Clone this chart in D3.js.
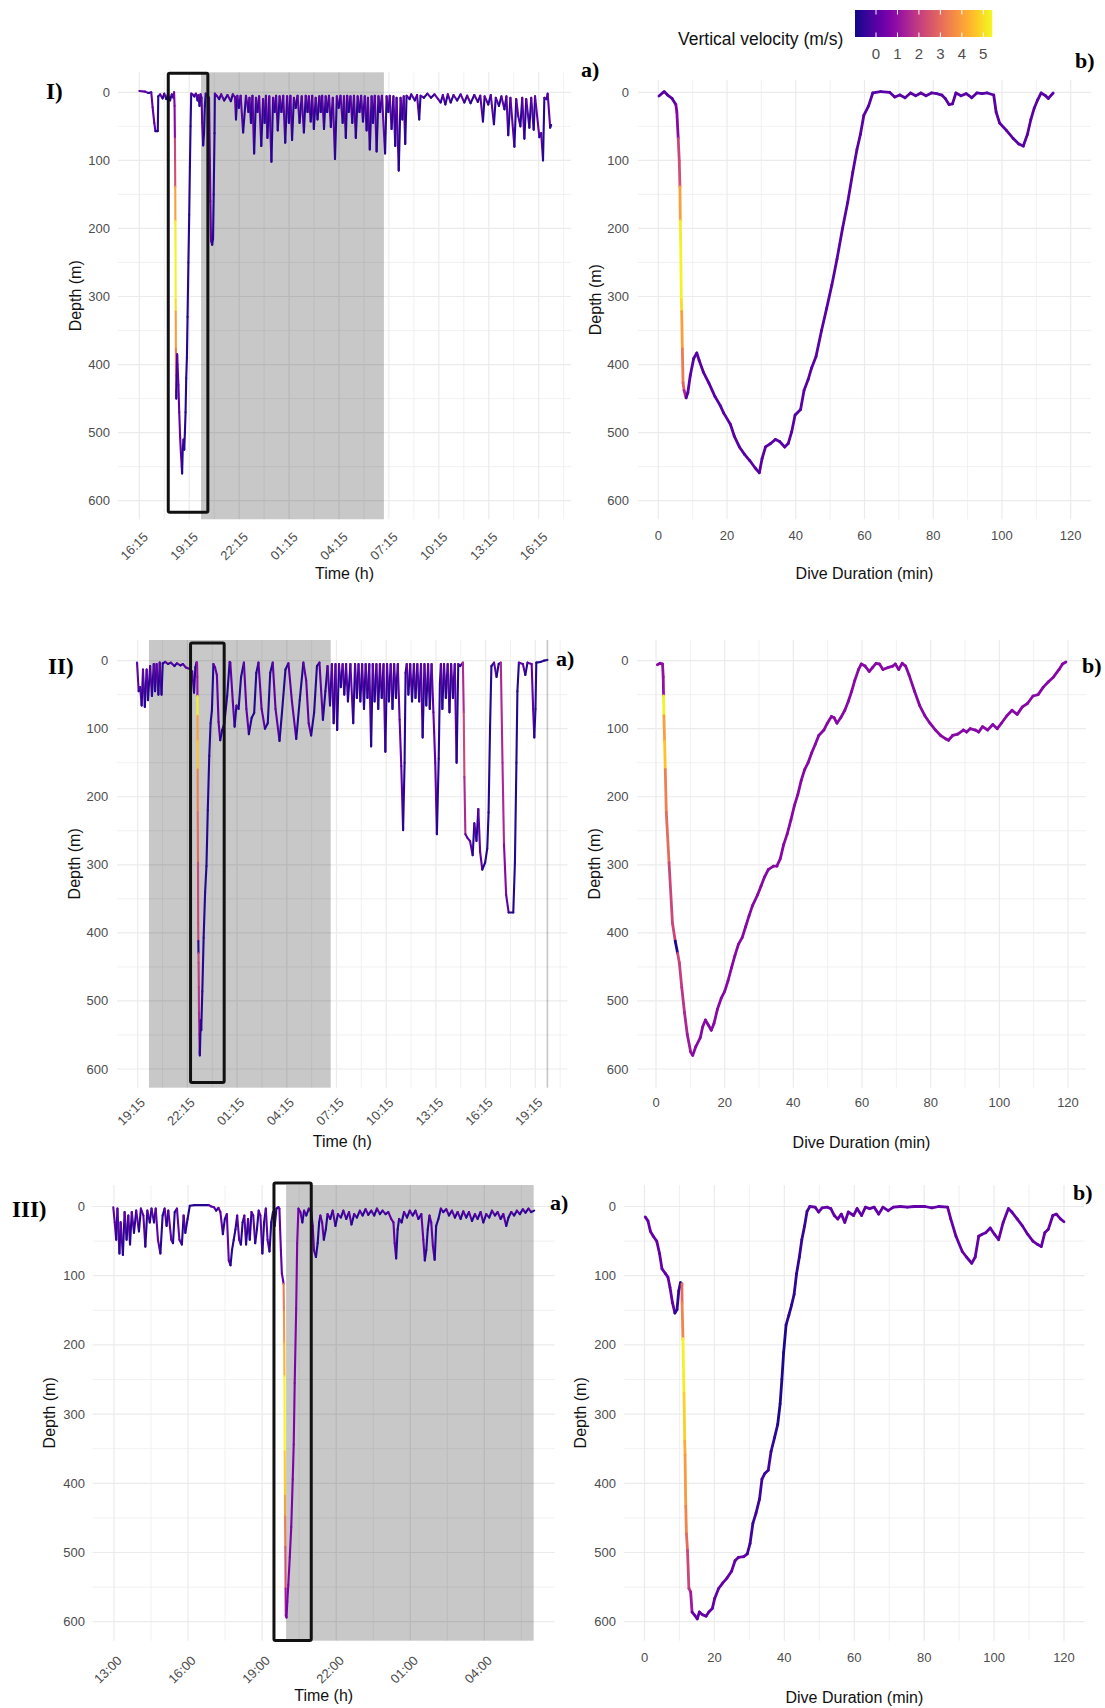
<!DOCTYPE html>
<html lang="en">
  <head>
    <meta charset="UTF-8" />
    <title>Dive profiles</title>
    <script src="https://d3js.org/d3.v7.min.js"></script>
    <style>
      body { margin: 0; background: #fff; }
      svg { display: block; font-family: 'Liberation Sans', Arial, sans-serif; }
    </style>
  </head>
  <body>
    <svg width="1105" height="1708"></svg>
    <script>
      // ---- data ----
      // tracks: [hours since first tick, depth m, optional vertical velocity m/s]
      // profiles: [minutes since dive start, depth m, optional vertical velocity m/s]
      var timeLabelsI = ['16:15', '19:15', '22:15', '01:15', '04:15', '07:15', '10:15', '13:15', '16:15']
      var timeLabelsII = ['19:15', '22:15', '01:15', '04:15', '07:15', '10:15', '13:15', '16:15', '19:15']
      var timeLabelsIII = ['13:00', '16:00', '19:00', '22:00', '01:00', '04:00']
      var depthTicks = [0, 100, 200, 300, 400, 500, 600]
      var durationTicks = [0, 20, 40, 60, 80, 100, 120]
      var velocityTicks = [0, 1, 2, 3, 4, 5]
      var velocityLimits = [-0.98, 5.42]

      var nightI = [[3.71, 14.7]]
      var nightII = [[0.68, 11.65], [24.68, 24.78]]
      var nightIII = [[6.97, 17.0]]
      // highlighted dive: [t start, t end, depth top, depth bottom]
      var boxI = [1.74, 4.12, -28, 617]
      var boxII = [3.19, 5.22, -26, 620]
      var boxIII = [6.48, 7.99, -34, 627]

      var trackI = [
        [0.0, -2], [0.35, -1], [0.55, 1], [0.72, 0], [0.8, 22], [0.9, 45], [0.97, 57], [1.11, 57], [1.14, 6], [1.25, 3],
        [1.4, 9], [1.5, 2], [1.62, 10], [1.72, 3], [1.85, 12], [1.95, 3], [2.05, 8],
        [2.09, 0], [2.12, 20, 0.6], [2.14, 68, 0.8], [2.15, 101, 2.2], [2.16, 139, 2.4], [2.17, 189, 4.0], [2.175, 217, 5.2],
        [2.185, 305, 5.3], [2.19, 322, 5.0], [2.2, 377, 4.0], [2.21, 427, 3.3], [2.215, 438, 2.8], [2.223, 450, 1.0],
        [2.25, 416], [2.273, 385], [2.3, 400], [2.35, 430], [2.4, 470], [2.45, 505], [2.5, 530], [2.55, 550], [2.573, 560],
        [2.61, 525], [2.657, 510], [2.7, 525], [2.74, 500], [2.78, 470], [2.82, 420], [2.86, 390], [2.9, 330], [2.95, 250],
        [3.0, 180], [3.04, 110], [3.08, 50], [3.12, 2],
        [3.2, 3], [3.3, 6], [3.4, 2], [3.5, 12], [3.55, 4], [3.62, 20], [3.68, 3], [3.74, 8], [3.78, 45], [3.84, 78],
        [3.89, 60], [3.94, 20], [3.99, 2], [4.1, 5], [4.19, 8], [4.24, 100], [4.27, 160], [4.31, 218], [4.38, 224],
        [4.43, 215], [4.47, 150], [4.52, 60], [4.54, 2], [4.65, 5], [4.8, 10], [4.92, 3], [5.1, 12], [5.3, 4], [5.5, 13],
        [5.62, 3], [5.75, 7],
        [5.81, 40], [5.89, 5], [5.98, 23], [6.09, 5], [6.24, 59], [6.41, 5], [6.56, 29], [6.62, 8], [6.71, 45], [6.8, 5],
        [6.9, 90], [7.01, 8], [7.1, 29], [7.2, 6], [7.33, 79], [7.44, 10], [7.53, 45], [7.61, 5], [7.7, 67], [7.81, 6],
        [7.94, 102], [8.04, 8], [8.13, 29], [8.22, 5], [8.32, 56], [8.43, 6], [8.54, 29], [8.65, 5], [8.77, 74], [8.88, 6],
        [8.99, 45], [9.08, 5], [9.18, 70], [9.29, 8], [9.4, 23], [9.51, 5], [9.63, 45], [9.76, 6], [9.89, 59], [10.0, 5],
        [10.11, 29], [10.19, 6], [10.3, 43], [10.39, 5], [10.49, 54], [10.6, 8], [10.71, 40], [10.82, 6], [10.9, 29],
        [10.99, 5], [11.1, 54], [11.2, 6], [11.29, 29], [11.4, 5], [11.51, 51], [11.63, 8], [11.76, 98], [11.87, 6],
        [11.98, 23], [12.09, 5], [12.22, 45], [12.3, 6], [12.41, 67], [12.49, 5], [12.58, 29], [12.69, 6], [12.8, 45],
        [12.9, 5], [13.01, 67], [13.12, 6], [13.23, 29], [13.33, 5], [13.44, 43], [13.55, 6], [13.66, 56], [13.74, 8],
        [13.85, 84], [13.96, 6], [14.04, 45], [14.15, 5], [14.26, 87], [14.37, 6], [14.47, 29], [14.58, 5], [14.77, 90],
        [14.86, 6], [14.97, 29], [15.05, 5], [15.16, 54], [15.27, 6], [15.38, 79], [15.46, 8], [15.59, 115], [15.7, 8],
        [15.81, 40], [15.89, 6], [15.98, 76], [16.06, 5],
        [16.24, 10], [16.34, 3], [16.56, 12], [16.69, 4], [16.82, 40], [16.9, 5], [17.1, 8], [17.31, 2], [17.53, 8],
        [17.74, 3], [17.96, 10], [18.11, 15], [18.24, 4], [18.39, 18], [18.54, 3], [18.71, 15], [18.88, 4], [19.1, 12],
        [19.31, 3], [19.53, 15], [19.7, 5], [19.91, 16], [20.13, 4], [20.34, 14], [20.49, 5], [20.65, 43], [20.75, 6],
        [20.97, 18], [21.12, 4], [21.31, 47], [21.42, 8], [21.61, 20], [21.76, 6], [21.94, 25], [22.06, 6], [22.17, 63],
        [22.3, 8], [22.54, 80], [22.65, 10], [22.77, 35], [22.9, 50], [23.01, 8], [23.14, 68], [23.25, 10], [23.44, 52],
        [23.55, 8], [23.7, 55], [23.78, 6], [24.04, 66], [24.15, 60], [24.26, 100], [24.34, 8], [24.47, 10], [24.54, 2],
        [24.69, 52], [24.75, 48]
      ]

      var profileI = [
        [0.2, 5.5], [1.2, 1], [1.7, -1], [2.7, 4], [4.0, 9], [5.1, 18], [5.4, 29, 0.6], [5.8, 68, 0.8], [6.1, 101, 2.2],
        [6.3, 139, 2.4], [6.4, 189, 4.0], [6.5, 217, 5.2], [6.7, 305, 5.3], [6.8, 322, 5.0], [7.0, 377, 4.0],
        [7.2, 427, 3.3], [7.5, 438, 2.8], [8.1, 449, 1.5], [8.6, 441], [9.3, 416], [10.3, 391], [11.2, 383], [11.9, 394],
        [13.1, 411], [14.7, 427], [16.5, 447], [18.0, 460], [19.0, 471], [21.0, 488], [22.1, 505], [23.6, 521],
        [25.1, 532], [26.6, 541], [28.2, 552], [29.4, 559], [30.2, 538], [31.2, 521], [32.7, 516], [34.1, 510],
        [35.3, 513], [36.8, 521], [37.8, 516], [38.8, 499], [39.8, 474], [41.4, 466], [42.4, 438], [43.6, 422],
        [44.6, 405], [45.9, 388], [47.5, 350], [49.0, 317], [50.5, 283], [52.0, 245], [53.6, 200], [55.1, 162],
        [56.6, 117], [57.8, 84], [58.8, 62], [59.8, 34], [61.2, 20], [62.4, 1], [64.7, -1], [67.3, 0], [68.8, 7],
        [70.3, 4], [71.8, 8], [73.4, 1], [74.9, 5], [76.4, 1], [77.9, 5], [79.5, 1], [81.0, 2], [82.5, 4], [83.5, 9],
        [84.6, 18], [85.6, 17], [86.6, 1], [88.1, 5], [89.6, 2], [91.2, 8], [92.7, 1], [94.2, 2], [95.7, 1], [97.6, 4],
        [98.3, 29], [99.3, 45], [101.3, 56], [103.3, 68], [104.9, 76], [106.2, 79], [107.4, 62], [108.4, 40],
        [109.4, 23], [110.4, 11], [111.4, 1], [112.7, 5], [113.5, 9], [114.9, 1]
      ]

      var trackII = [
        [-0.04, 3], [0.06, 45], [0.15, 39], [0.24, 66], [0.32, 13], [0.43, 68], [0.54, 13], [0.62, 58], [0.75, 8],
        [0.86, 52], [0.97, 5], [1.05, 45], [1.14, 5], [1.25, 50], [1.33, 3], [1.44, 50], [1.51, 4],
        [1.66, 2], [1.83, 5], [2.0, 3], [2.22, 8], [2.37, 4], [2.58, 7], [2.73, 5], [2.9, 10], [3.12, 12], [3.29, 16],
        [3.4, 47], [3.48, 10], [3.55, 3], [3.58, 3],
        [3.6, 24, 1.0], [3.605, 52, 1.0], [3.61, 81, 5.3], [3.615, 118, 4.0], [3.62, 160, 4.6], [3.625, 223, 3.4],
        [3.64, 297, 3.0], [3.65, 386, 2.2], [3.66, 412, 2.2], [3.67, 430, -0.6], [3.675, 444, 2.2], [3.69, 480, 2.0],
        [3.7, 517, 1.8], [3.72, 549, 1.5], [3.74, 575, 1.2], [3.75, 580, 0.8],
        [3.807, 528], [3.835, 543], [3.9, 486], [3.98, 407], [4.07, 340], [4.15, 302], [4.23, 220], [4.32, 140],
        [4.4, 92], [4.48, 73], [4.57, 5], [4.67, 10], [4.78, 21], [4.88, 90], [4.98, 117], [5.1, 102], [5.23, 92],
        [5.4, 52], [5.55, 2], [5.59, 3],
        [5.74, 60], [5.85, 97], [5.96, 66], [6.09, 71], [6.24, 24], [6.41, 3], [6.56, 71], [6.71, 108], [6.88, 84],
        [7.03, 77], [7.16, 18], [7.29, 3], [7.48, 71], [7.68, 100], [7.85, 92], [8.0, 18], [8.15, 3], [8.32, 71],
        [8.56, 118], [8.71, 76], [8.92, 13], [9.1, 4], [9.31, 60], [9.57, 115], [9.78, 58], [10.0, 3], [10.17, 29],
        [10.32, 92], [10.47, 110], [10.65, 76], [10.82, 8], [10.97, 3], [11.18, 87], [11.33, 45], [11.46, 8],
        [11.61, 66], [11.72, 5],
        [11.83, 92], [11.94, 5], [12.04, 102], [12.15, 5], [12.26, 39], [12.37, 5], [12.47, 50], [12.58, 5],
        [12.69, 60], [12.84, 5], [13.01, 92], [13.12, 5], [13.23, 55], [13.33, 5], [13.44, 60], [13.55, 5],
        [13.66, 71], [13.76, 5], [13.87, 55], [13.98, 5], [14.09, 126], [14.19, 5], [14.3, 60], [14.41, 5],
        [14.52, 71], [14.62, 5], [14.73, 55], [14.84, 5], [14.95, 134], [15.05, 5], [15.16, 60], [15.27, 5],
        [15.38, 71], [15.48, 5], [15.59, 55], [15.7, 5], [15.81, 87], [15.91, 155], [16.02, 249], [16.11, 150],
        [16.17, 18], [16.24, 5], [16.34, 50], [16.45, 5], [16.56, 60], [16.67, 5], [16.77, 55], [16.88, 5],
        [16.99, 60], [17.1, 5], [17.2, 113], [17.31, 5], [17.42, 66], [17.53, 5], [17.63, 71], [17.74, 5],
        [17.85, 76], [17.96, 150], [18.06, 255], [18.17, 144], [18.24, 34], [18.3, 5], [18.39, 71], [18.49, 5],
        [18.6, 55], [18.71, 5], [18.82, 76], [18.92, 5], [19.03, 55], [19.14, 5], [19.25, 150], [19.35, 5],
        [19.46, 8], [19.63, 3], [19.68, 76, 1.5], [19.72, 171, 2.2], [19.78, 255, 1.5], [19.89, 260], [20.06, 265],
        [20.22, 286], [20.32, 239], [20.45, 265], [20.56, 218], [20.67, 281], [20.8, 307], [20.97, 297],
        [21.1, 276], [21.18, 223], [21.27, 97], [21.35, 8], [21.51, 3], [21.66, 24], [21.79, 5], [21.92, 3],
        [22.02, 150, 1.5], [22.11, 270, 1.5], [22.24, 344, 0.8], [22.39, 370], [22.67, 370], [22.77, 297],
        [22.86, 150], [22.92, 45], [23.01, 3], [23.25, 5], [23.4, 21], [23.53, 3], [23.78, 5], [23.87, 71],
        [23.94, 113], [24.01, 71], [24.06, 3], [24.32, 2], [24.52, 0], [24.73, -1]
      ]

      var profileII = [
        [0.4, 6], [1.2, 4], [1.9, 5], [2.1, 24, 1.0], [2.2, 52, 1.0], [2.3, 81, 5.3], [2.5, 118, 4.0], [2.7, 160, 4.6],
        [3.0, 223, 3.4], [3.8, 297, 3.0], [4.8, 386, 2.2], [5.6, 412, 2.2], [6.3, 430, -0.8], [6.8, 444, 2.2],
        [7.5, 480, 2.0], [8.3, 517, 1.8], [9.1, 549, 1.5], [10.1, 575, 1.2], [10.7, 580, 1.0],
        [11.6, 567], [12.9, 554], [13.6, 538], [14.4, 528], [15.2, 535], [16.1, 543], [16.9, 533], [17.9, 512],
        [19.0, 496], [20.0, 486], [21.0, 470], [22.0, 451], [23.0, 433], [24.0, 417], [25.1, 407], [26.1, 391],
        [27.1, 375], [28.1, 360], [29.6, 344], [30.6, 331], [31.6, 318], [32.7, 307], [34.2, 302], [35.2, 302],
        [36.2, 291], [37.2, 270], [38.2, 255], [39.3, 234], [40.3, 213], [41.3, 197], [42.3, 176], [43.3, 160],
        [44.3, 150], [45.3, 136], [46.4, 123], [47.4, 110], [48.9, 102], [49.9, 92], [51.1, 82], [51.9, 84],
        [52.7, 92], [53.8, 84], [55.0, 73], [56.0, 60], [57.0, 45], [57.9, 29], [59.0, 13], [59.8, 5], [60.9, 8],
        [62.1, 16], [63.1, 10], [64.1, 4], [65.1, 5], [66.1, 13], [67.7, 10], [69.0, 8], [69.7, 5], [70.7, 13],
        [71.7, 4], [72.7, 8], [73.7, 21], [75.3, 45], [76.8, 66], [78.3, 81], [79.8, 92], [81.4, 102], [82.9, 110],
        [84.4, 115], [85.2, 117], [86.4, 110], [87.9, 108], [89.5, 102], [90.5, 105], [91.5, 100], [93.0, 102],
        [94.0, 105], [95.1, 97], [96.6, 102], [98.1, 94], [99.4, 100], [100.6, 92], [102.2, 81], [103.7, 73],
        [105.2, 79], [106.7, 68], [108.2, 63], [109.8, 52], [111.3, 50], [112.8, 39], [114.3, 31], [115.8, 24],
        [117.4, 13], [118.4, 5], [119.4, 2]
      ]

      var trackIII = [
        [-0.03, 1], [0.03, 23], [0.09, 48], [0.14, 3], [0.22, 68], [0.27, 23], [0.36, 70], [0.43, 8], [0.51, 48],
        [0.58, 13], [0.65, 55], [0.72, 8], [0.81, 38], [0.9, 6], [1.01, 36], [1.09, 3], [1.19, 13], [1.27, 58],
        [1.35, 6], [1.45, 23], [1.52, 3], [1.62, 23], [1.69, 3], [1.78, 48], [1.88, 68], [1.97, 13], [2.05, 3],
        [2.13, 28], [2.2, 6], [2.32, 48], [2.39, 53], [2.46, 8], [2.55, 3], [2.65, 48], [2.75, 55], [2.82, 13],
        [2.89, 38], [2.98, 18], [3.07, -1], [3.26, -2], [3.84, -2], [3.94, 0], [4.05, 1], [4.14, 6], [4.23, 2],
        [4.31, 8], [4.41, 40], [4.49, 18], [4.57, 11], [4.65, 78], [4.72, 85], [4.78, 63], [4.85, 48], [4.92, 33],
        [4.99, 13], [5.07, 48], [5.14, 55], [5.21, 23], [5.28, 13], [5.35, 55], [5.43, 18], [5.5, 48], [5.57, 8],
        [5.64, 13], [5.72, 53], [5.79, 33], [5.86, 6], [5.93, 13], [6.01, 68], [6.08, 23], [6.15, 3], [6.22, 48],
        [6.3, 65], [6.37, 23], [6.44, 8], [6.51, 28], [6.58, 3], [6.66, 1],
        [6.7, 3], [6.76, 63], [6.8, 97], [6.85, 107], [6.87, 112], [6.885, 152, 3.3], [6.895, 196, 3.8],
        [6.905, 245, 4.3], [6.915, 354, 5.3], [6.925, 418, 4.7], [6.93, 448, 4.0], [6.94, 492, 3.3],
        [6.95, 552, 2.5], [6.96, 591, 1.2], [6.99, 594, 0.5],
        [7.02, 571, 0.6], [7.06, 547, 0.6], [7.12, 507, 0.6], [7.18, 463, 0.6], [7.24, 394, 0.6], [7.28, 344, 0.6],
        [7.32, 255, 0.6], [7.38, 147, 0.6], [7.42, 53, 0.6], [7.47, 3, 0.6],
        [7.55, 8], [7.63, 23], [7.7, 6], [7.79, 13], [7.89, 3], [7.99, 8], [8.05, 28], [8.1, 63], [8.18, 73],
        [8.25, 53], [8.31, 23], [8.36, 13], [8.43, 23], [8.5, 48], [8.58, 33], [8.65, 11], [8.76, 18], [8.86, 6],
        [8.97, 28], [9.07, 11], [9.19, 16], [9.29, 6], [9.41, 18], [9.52, 8], [9.62, 26], [9.73, 11], [9.84, 16],
        [9.96, 6], [10.07, 13], [10.19, 4], [10.3, 12], [10.42, 6], [10.54, 13], [10.65, 3], [10.77, 11],
        [10.88, 6], [11.0, 11], [11.11, 8], [11.23, 18], [11.32, 23], [11.37, 53], [11.43, 75], [11.49, 33],
        [11.55, 18], [11.65, 23], [11.75, 8], [11.87, 16], [11.98, 6], [12.1, 13], [12.21, 6], [12.33, 18],
        [12.45, 11], [12.53, 48], [12.59, 78], [12.65, 63], [12.71, 33], [12.78, 13], [12.85, 23], [12.92, 58],
        [12.99, 77], [13.05, 28], [13.14, 18], [13.24, 3], [13.34, 8], [13.46, 4], [13.57, 13], [13.69, 6],
        [13.81, 16], [13.92, 8], [14.04, 18], [14.15, 7], [14.27, 16], [14.38, 8], [14.5, 21], [14.62, 11],
        [14.73, 18], [14.85, 8], [14.96, 23], [15.08, 11], [15.2, 16], [15.31, 6], [15.43, 13], [15.54, 8],
        [15.66, 18], [15.77, 11], [15.89, 28], [15.98, 16], [16.09, 8], [16.21, 13], [16.32, 6], [16.44, 11],
        [16.56, 4], [16.67, 9], [16.79, 3], [16.9, 8], [17.02, 6]
      ]

      var profileIII = [
        [0.2, 15], [1.0, 21], [1.7, 36], [2.5, 43], [3.5, 50], [4.3, 68], [5.0, 90], [6.0, 97], [6.7, 102],
        [7.3, 117], [8.0, 139], [8.7, 154], [9.3, 149, -0.6], [9.8, 122, -0.6], [10.3, 110, -0.6], [10.7, 112, -0.6],
        [10.75, 139, 3.0], [11.0, 191, 3.5], [11.2, 245, 5.3], [11.3, 270, 5.2], [11.5, 339, 4.8], [11.6, 359, 4.2],
        [11.8, 433, 3.9], [12.0, 473, 3.5], [12.3, 497, 3.0], [12.7, 552, 2.2], [13.2, 557, 1.8], [13.6, 586, 1.2],
        [14.4, 591], [15.1, 596], [15.7, 586], [16.6, 590], [17.6, 592], [18.4, 586], [19.4, 581], [20.1, 566],
        [21.2, 552], [22.4, 544], [23.6, 537], [24.9, 527], [25.9, 512], [26.9, 507], [28.4, 506], [29.4, 502],
        [30.2, 487, -0.4], [31.0, 458, -0.4], [31.9, 443, -0.4], [32.9, 423, -0.4], [33.6, 394, -0.4],
        [34.4, 386, -0.4], [35.4, 381, -0.4], [36.2, 354, -0.4], [37.2, 334, -0.5], [38.1, 315, -0.6],
        [38.8, 285, -0.8], [39.3, 250, -0.8], [39.8, 211, -0.8], [40.5, 171, -0.8], [41.3, 157, -0.7],
        [42.1, 142, -0.7], [42.8, 127, -0.6], [43.5, 97, -0.6], [44.3, 73, -0.6], [45.0, 48, -0.5],
        [45.8, 28, -0.5], [46.5, 7, -0.5], [47.3, 0, -0.4],
        [48.8, 1], [49.8, 8], [50.8, 2], [52.3, 1], [53.3, 3], [54.3, 13], [55.3, 18], [56.3, 11], [57.3, 23],
        [58.3, 8], [59.8, 13], [60.8, 3], [62.1, 13], [63.2, 1], [64.4, 3], [65.7, 1], [67.0, 11], [68.2, 1],
        [69.7, 6], [71.2, 1], [73.2, 0], [75.2, 1], [77.2, 0], [80.2, 0], [82.2, 2], [84.2, 0], [86.7, 1],
        [87.6, 18], [89.1, 43], [90.9, 65], [92.1, 73], [93.6, 82], [94.6, 73], [95.6, 43], [96.6, 40],
        [97.6, 38], [98.9, 31], [100.1, 40], [101.3, 48], [102.6, 23], [104.1, 3], [105.1, 8], [106.6, 18],
        [108.1, 28], [109.6, 40], [111.1, 50], [112.5, 55], [113.5, 58], [114.5, 38], [115.5, 33], [116.8, 13],
        [117.8, 11], [119.0, 18], [120.0, 22]
      ]

      // ---- drawing ----
      var svg = d3.select('svg')
      var plasma = d3.scaleSequential(d3.interpolatePlasma).domain(velocityLimits)
      var tickGrey = '#4d4d4d'

      // vDefault === null: colour by direction of travel
      function toSegments(track, vDefault) {
        var segs = []
        for (var i = 1; i < track.length; i++) {
          var p = track[i - 1]
          var q = track[i]
          var v
          if (q.length > 2) v = q[2]
          else if (vDefault === null) v = q[1] > p[1] ? 0.1 : -0.75
          else v = vDefault
          segs.push({ x1: p[0], y1: p[1], x2: q[0], y2: q[1], v: v })
        }
        return segs
      }

      function drawPanel(cfg) {
        var g = svg.append('g')
        var x = d3.scaleLinear().domain(cfg.xDomain).range(cfg.xRange)
        var y = d3.scaleLinear().domain([0, 600]).range(cfg.yRange)
        var xMin = x.invert(cfg.left)
        var xMax = x.invert(cfg.right)

        var step = cfg.xTicks[1] - cfg.xTicks[0]
        var xMinor = d3.range(cfg.xTicks[0] - step / 2, xMax, step).filter(function(v) { return v > xMin })
        var yMinor = d3.range(50, 600, 100)

        // grid
        g.selectAll('.gxm').data(xMinor).join('line')
          .attr('x1', function(d) { return x(d) }).attr('x2', function(d) { return x(d) })
          .attr('y1', cfg.top).attr('y2', cfg.bottom)
          .attr('stroke', '#ededed').attr('stroke-width', 0.8)
        g.selectAll('.gym').data(yMinor).join('line')
          .attr('x1', cfg.left).attr('x2', cfg.right)
          .attr('y1', function(d) { return y(d) }).attr('y2', function(d) { return y(d) })
          .attr('stroke', '#ededed').attr('stroke-width', 0.8)
        g.selectAll('.gx').data(cfg.xTicks).join('line')
          .attr('x1', function(d) { return x(d) }).attr('x2', function(d) { return x(d) })
          .attr('y1', cfg.top).attr('y2', cfg.bottom)
          .attr('stroke', '#ebebeb').attr('stroke-width', 1.2)
        g.selectAll('.gy').data(depthTicks).join('line')
          .attr('x1', cfg.left).attr('x2', cfg.right)
          .attr('y1', function(d) { return y(d) }).attr('y2', function(d) { return y(d) })
          .attr('stroke', '#ebebeb').attr('stroke-width', 1.2)

        // night shading
        if (cfg.night) {
          g.selectAll('.night').data(cfg.night).join('rect')
            .attr('x', function(d) { return x(d[0]) })
            .attr('width', function(d) { return x(d[1]) - x(d[0]) })
            .attr('y', cfg.top).attr('height', cfg.bottom - cfg.top)
            .attr('fill', '#000').attr('fill-opacity', 0.215)
        }

        // depth trace
        g.append('g').selectAll('line').data(toSegments(cfg.track, cfg.vDefault)).join('line')
          .attr('x1', function(d) { return x(d.x1) }).attr('y1', function(d) { return y(d.y1) })
          .attr('x2', function(d) { return x(d.x2) }).attr('y2', function(d) { return y(d.y2) })
          .attr('stroke', function(d) { return plasma(d.v) })
          .attr('stroke-width', cfg.lineWidth)
          .attr('stroke-linecap', 'round')

        // highlighted dive
        if (cfg.box) {
          var b = cfg.box
          g.append('rect')
            .attr('x', x(b[0])).attr('width', x(b[1]) - x(b[0]))
            .attr('y', y(b[2])).attr('height', y(b[3]) - y(b[2]))
            .attr('fill', 'none').attr('stroke', '#111').attr('stroke-width', 3)
            .attr('stroke-linejoin', 'round').attr('rx', 1.5)
        }

        // y axis labels
        g.selectAll('.yl').data(depthTicks).join('text')
          .attr('x', cfg.yLabelX).attr('y', function(d) { return y(d) })
          .attr('dy', '0.35em').attr('text-anchor', 'end')
          .attr('font-size', 13).attr('fill', tickGrey)
          .text(function(d) { return d })

        // x axis labels
        if (cfg.rotated) {
          g.selectAll('.xl').data(cfg.xTicks).join('text')
            .attr('transform', function(d) {
              return 'translate(' + (x(d) + cfg.labDx) + ',' + (cfg.bottom + cfg.labGap) + ') rotate(-45)'
            })
            .attr('dy', '0.72em').attr('text-anchor', 'end')
            .attr('font-size', 13).attr('fill', tickGrey)
            .text(function(d, i) { return cfg.xLabels[i] })
        } else {
          g.selectAll('.xl').data(cfg.xTicks).join('text')
            .attr('x', function(d) { return x(d) }).attr('y', cfg.labBase)
            .attr('text-anchor', 'middle')
            .attr('font-size', 13).attr('fill', tickGrey)
            .text(function(d) { return d })
        }

        // titles
        g.append('text')
          .attr('x', (cfg.left + cfg.right) / 2).attr('y', cfg.xTitleY)
          .attr('text-anchor', 'middle').attr('font-size', 16).attr('fill', '#111')
          .text(cfg.xTitle)
        g.append('text')
          .attr('transform', 'translate(' + cfg.yTitleX + ',' + (cfg.top + cfg.bottom) / 2 + ') rotate(-90)')
          .attr('dy', '0.35em')
          .attr('text-anchor', 'middle').attr('font-size', 16).attr('fill', '#111')
          .text('Depth (m)')
      }

      var hourTicks8 = d3.range(0, 25, 3)
      var hourTicks5 = d3.range(0, 16, 3)

      drawPanel({
        left: 118, right: 571, top: 72.3, bottom: 519.3,
        xDomain: [0, 24], xRange: [139.3, 538.7], yRange: [92.3, 500.7],
        xTicks: hourTicks8, xLabels: timeLabelsI, rotated: true, labDx: 3, labGap: 12,
        track: trackI, vDefault: null, lineWidth: 2.1, night: nightI, box: boxI,
        yLabelX: 110, yTitleX: 75, xTitleY: 579, xTitle: 'Time (h)'
      })
      drawPanel({
        left: 638, right: 1091, top: 80, bottom: 519.3,
        xDomain: [0, 120], xRange: [658.3, 1070.7], yRange: [92.3, 500.7],
        xTicks: durationTicks, labBase: 540,
        track: profileI, vDefault: 0.0, lineWidth: 2.8,
        yLabelX: 629, yTitleX: 595, xTitleY: 579, xTitle: 'Dive Duration (min)'
      })
      drawPanel({
        left: 117, right: 567.5, top: 640, bottom: 1087.7,
        xDomain: [0, 24], xRange: [137.7, 535.3], yRange: [660.6, 1069],
        xTicks: hourTicks8, xLabels: timeLabelsII, rotated: true, labDx: 1.5, labGap: 9,
        track: trackII, vDefault: null, lineWidth: 2.1, night: nightII, box: boxII,
        yLabelX: 108.3, yTitleX: 74, xTitleY: 1147, xTitle: 'Time (h)'
      })
      drawPanel({
        left: 637, right: 1086, top: 640, bottom: 1087.7,
        xDomain: [0, 120], xRange: [656, 1068], yRange: [660.6, 1069],
        xTicks: durationTicks, labBase: 1107,
        track: profileII, vDefault: 0.8, lineWidth: 2.8,
        yLabelX: 628.5, yTitleX: 594, xTitleY: 1148, xTitle: 'Dive Duration (min)'
      })
      drawPanel({
        left: 92.7, right: 554.7, top: 1185, bottom: 1640.7,
        xDomain: [0, 15], xRange: [114, 484.3], yRange: [1206.5, 1621.7],
        xTicks: hourTicks5, xLabels: timeLabelsIII, rotated: true, labDx: 2, labGap: 14,
        track: trackIII, vDefault: null, lineWidth: 2.1, night: nightIII, box: boxIII,
        yLabelX: 85, yTitleX: 49, xTitleY: 1701, xTitle: 'Time (h)'
      })
      drawPanel({
        left: 624.3, right: 1084.5, top: 1185, bottom: 1640.7,
        xDomain: [0, 120], xRange: [644.5, 1064], yRange: [1206.5, 1621.7],
        xTicks: durationTicks, labBase: 1662,
        track: profileIII, vDefault: 0.2, lineWidth: 2.8,
        yLabelX: 616, yTitleX: 580, xTitleY: 1703, xTitle: 'Dive Duration (min)'
      })

      // panel tags
      var tags = [
        { t: 'I)', x: 46, y: 99, s: 23 }, { t: 'a)', x: 581, y: 77, s: 22 }, { t: 'b)', x: 1075, y: 68, s: 22 },
        { t: 'II)', x: 48, y: 674, s: 23 }, { t: 'a)', x: 556, y: 666, s: 22 }, { t: 'b)', x: 1082, y: 673, s: 22 },
        { t: 'III)', x: 12, y: 1217, s: 23 }, { t: 'a)', x: 550, y: 1210, s: 22 }, { t: 'b)', x: 1073, y: 1200, s: 22 }
      ]
      svg.selectAll('.tag').data(tags).join('text')
        .attr('x', function(d) { return d.x }).attr('y', function(d) { return d.y })
        .attr('font-family', "'Liberation Serif', 'Times New Roman', serif")
        .attr('font-weight', 'bold').attr('font-size', function(d) { return d.s })
        .text(function(d) { return d.t })

      // colour legend
      var lx = d3.scaleLinear().domain(velocityLimits).range([855, 992.3])
      var grad = svg.append('defs').append('linearGradient').attr('id', 'vgrad')
      grad.selectAll('stop').data(d3.range(0, 1.001, 0.05)).join('stop')
        .attr('offset', function(d) { return d })
        .attr('stop-color', function(d) { return d3.interpolatePlasma(d) })
      svg.append('rect')
        .attr('x', lx(velocityLimits[0])).attr('width', lx(velocityLimits[1]) - lx(velocityLimits[0]))
        .attr('y', 10).attr('height', 27)
        .attr('fill', 'url(#vgrad)')
      svg.selectAll('.lt1').data(velocityTicks).join('line')
        .attr('x1', function(d) { return lx(d) }).attr('x2', function(d) { return lx(d) })
        .attr('y1', 10).attr('y2', 14.5).attr('stroke', '#fff').attr('stroke-width', 1)
      svg.selectAll('.lt2').data(velocityTicks).join('line')
        .attr('x1', function(d) { return lx(d) }).attr('x2', function(d) { return lx(d) })
        .attr('y1', 32.5).attr('y2', 37).attr('stroke', '#fff').attr('stroke-width', 1)
      svg.selectAll('.ll').data(velocityTicks).join('text')
        .attr('x', function(d) { return lx(d) }).attr('y', 59)
        .attr('text-anchor', 'middle').attr('font-size', 15).attr('fill', tickGrey)
        .text(function(d) { return d })
      svg.append('text')
        .attr('x', 678).attr('y', 45)
        .attr('font-size', 17.5).attr('fill', '#111')
        .text('Vertical velocity (m/s)')
    </script>
  </body>
</html>
